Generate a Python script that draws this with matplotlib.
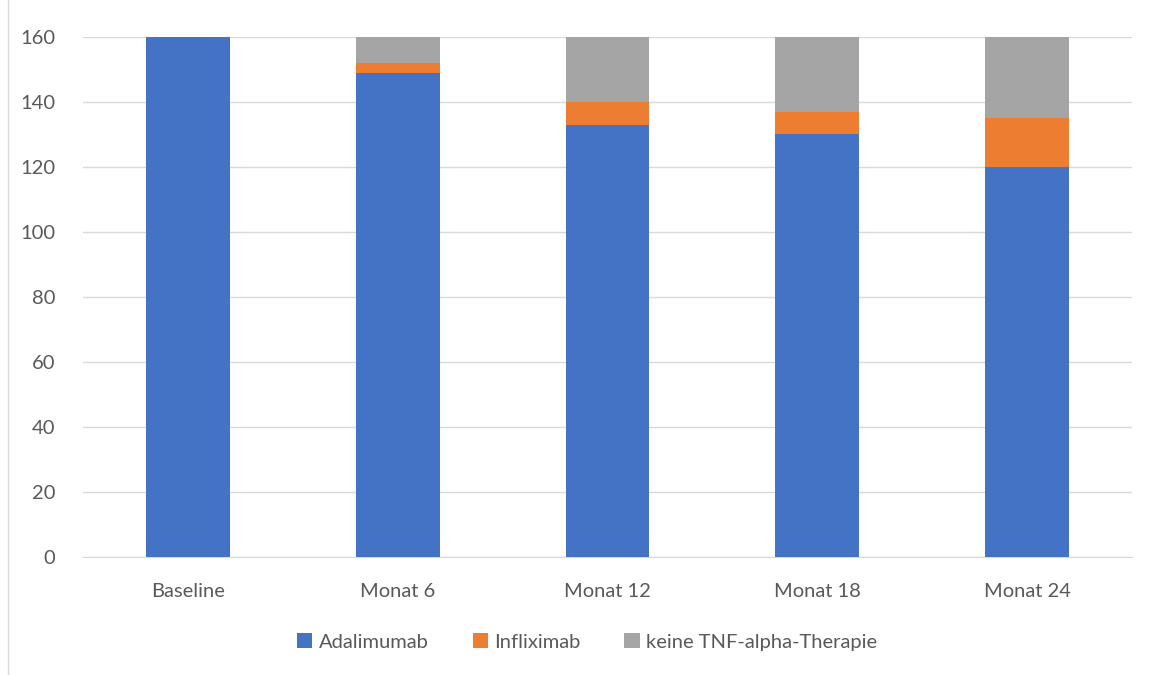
import matplotlib
matplotlib.use("Agg")
import matplotlib.pyplot as plt
import numpy as np

categories = ["Baseline", "Monat 6", "Monat 12", "Monat 18", "Monat 24"]
adalimumab = [160, 149, 133, 130, 120]
infliximab = [0, 3, 7, 7, 15]
keine_tnf = [0, 8, 20, 23, 25]
series_names = ["Adalimumab", "Infliximab", "keine TNF-alpha-Therapie"]
colors = ["#4472C4", "#ED7D31", "#A5A5A5"]
yticks = [0, 20, 40, 60, 80, 100, 120, 140, 160]

plt.rcParams["font.family"] = ["Lato", "DejaVu Sans"]
TXT = "#595959"

fig = plt.figure(figsize=(11.51, 6.75), dpi=100)
ax = fig.add_axes([0.0721, 0.1748, 0.9114, 0.7704])

x = np.arange(len(categories))
bottom = np.zeros(len(categories))
for vals, name, col in zip([adalimumab, infliximab, keine_tnf], series_names, colors):
    ax.bar(x, vals, bottom=bottom, width=0.4, color=col, label=name, zorder=3)
    bottom += np.array(vals)

ax.set_xlim(-0.5, len(categories) - 0.5)
ax.set_ylim(0, 160)
ax.set_yticks(yticks)
ax.set_xticks(x)
ax.set_xticklabels(categories)
ax.grid(axis="y", color="#D9D9D9", lw=1, zorder=0)
for s in ["top", "right", "left"]:
    ax.spines[s].set_visible(False)
ax.spines["bottom"].set_color("#D9D9D9")
ax.tick_params(axis="both", length=0, labelsize=14.5, colors=TXT)
ax.tick_params(axis="x", pad=19)
ax.tick_params(axis="y", pad=20)

leg = fig.legend(loc="center", bbox_to_anchor=(0.51, 0.049), ncol=3, frameon=False,
                 fontsize=14.5, handlelength=0.75, handleheight=0.75, handletextpad=0.3,
                 columnspacing=2.2)
for t in leg.get_texts():
    t.set_color(TXT)

# chart frame edge on the left
fig.add_artist(plt.Line2D([0.007, 0.007], [0, 1], color="#D9D9D9", lw=1,
                          transform=fig.transFigure))

fig.savefig("out.png", dpi=100)
